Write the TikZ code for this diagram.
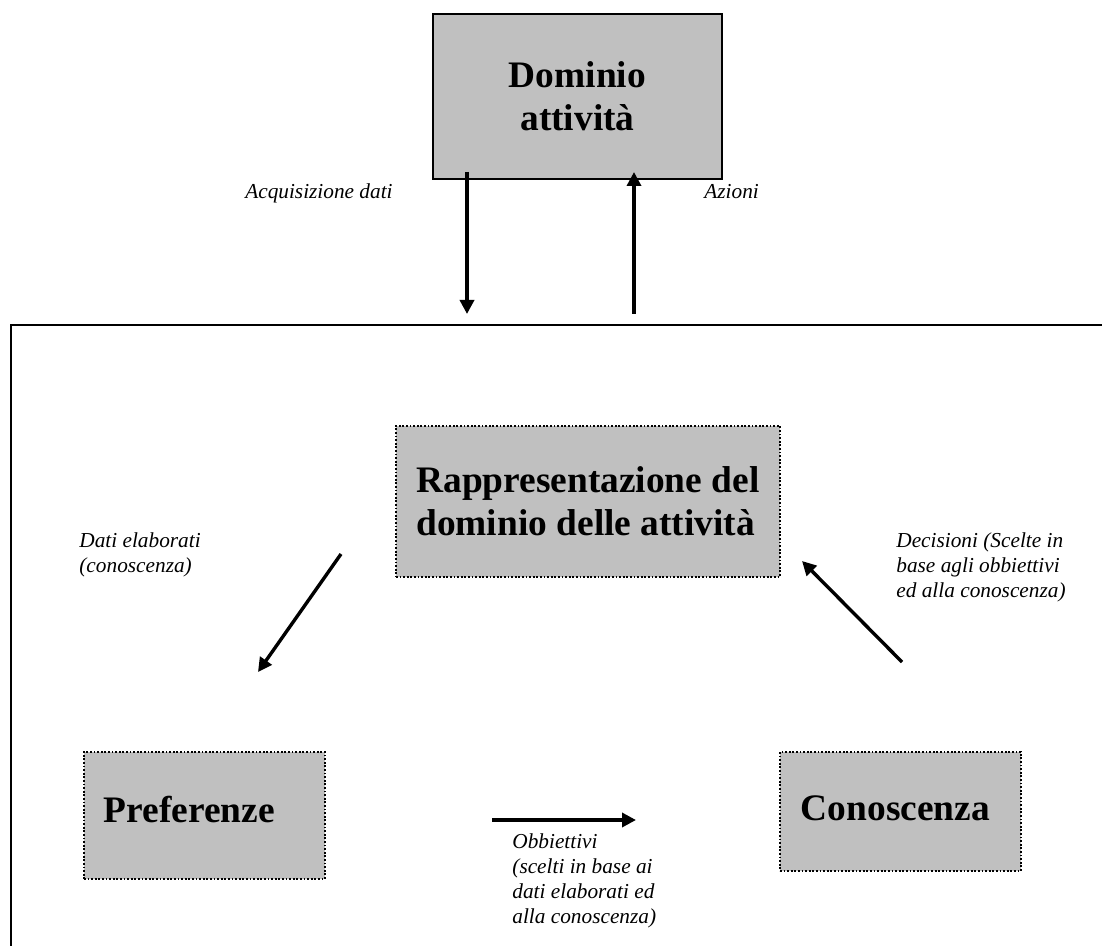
\documentclass[tikz,border=0pt]{standalone}
\usepackage{fontspec}
\setmainfont{Liberation Serif}
\usetikzlibrary{arrows.meta}
\definecolor{boxgray}{HTML}{C0C0C0}
\tikzstyle{solidbox} = [rectangle, draw=black, line width=1pt, fill=boxgray, align=center, font=\fontsize{18.7}{21.5}\selectfont\bfseries]
\tikzstyle{dotbox} = [rectangle, draw=black, line width=0.9pt, dash pattern=on 0.9pt off 0.9pt, fill=boxgray, align=left, anchor=north west, font=\fontsize{18.7}{21.5}\selectfont\bfseries]
\tikzstyle{lbl} = [inner sep=0pt, align=left, font=\fontsize{10.65}{12.5}\selectfont\itshape]
\tikzstyle{arrow} = [line width=1.7pt, -{Triangle[length=7pt,width=7pt]}]

\begin{document}
\begin{tikzpicture}[x=0.5pt, y=-0.5pt]
      \useasboundingbox (0,0) rectangle (1102,946);

      % outer frame (open to the right and bottom)
      \draw[line width=1pt] (1102,325) -- (11,325) -- (11,946);

      \node (dominio) [solidbox, minimum width=144.5pt, minimum height=82.5pt, anchor=north west] at (432,13) {Dominio\\attività};
      \node (rappr) [dotbox, minimum width=192pt, minimum height=75.5pt] at (395,425) {Rappresentazione del\\dominio delle attività};
      \node (pref) [dotbox, minimum width=120.5pt, minimum height=63.5pt, text width=100.5pt, inner xsep=10pt, text depth=6pt] at (83,751) {Preferenze};
      \node (conosc) [dotbox, minimum width=120.5pt, minimum height=59.5pt, text width=99.5pt, inner xsep=10.5pt, text depth=3pt] at (779,751) {Conoscenza};

      \node (acqlbl) [lbl, anchor=base east] at (393,199) {Acquisizione dati};
      \node (azlbl) [lbl, anchor=base west] at (704,199) {Azioni};
      \node (datilbl) [lbl, anchor=north west] at (79,532) {Dati elaborati\\(conoscenza)};
      \node (declbl) [lbl, anchor=north west] at (896,532) {Decisioni (Scelte in\\base agli obbiettivi\\ed alla conoscenza)};
      \node (obblbl) [lbl, anchor=north west] at (512,833) {Obbiettivi\\(scelti in base ai\\dati elaborati ed\\alla conoscenza)};

      \coordinate (acqA) at (467,172);
      \coordinate (acqB) at (467,314);
      \coordinate (azA) at (634,314);
      \coordinate (azB) at (634,172);
      \coordinate (datiA) at (341,554);
      \coordinate (datiB) at (258,672);
      \coordinate (decA) at (902,662);
      \coordinate (decB) at (802,561);
      \coordinate (obbA) at (492,820);
      \coordinate (obbB) at (636,820);

      \draw[arrow] (acqA) -- (acqB);
      \draw[arrow] (azA) -- (azB);
      \draw[arrow] (datiA) -- (datiB);
      \draw[arrow] (decA) -- (decB);
      \draw[arrow] (obbA) -- (obbB);
    \end{tikzpicture}
\end{document}
